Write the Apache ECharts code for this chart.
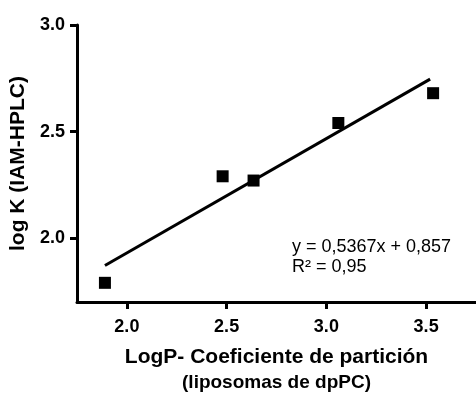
<!DOCTYPE html>
<html><head><meta charset="utf-8">
<script src="https://cdn.jsdelivr.net/npm/echarts@6/dist/echarts.min.js"></script>
<style>html,body{margin:0;padding:0;background:#fff}#c{width:476px;height:394px}</style>
</head><body><div id="c"></div>
<script>
const xValues = [1.89, 2.48, 2.635, 3.06, 3.535];
const yValues = [1.79, 2.29, 2.27, 2.54, 2.68];
const slope = 0.5367, intercept = 0.857;
const fitX = [1.89, 3.52];
const xTicks = [2.0, 2.5, 3.0, 3.5];
const yTicks = [2.0, 2.5, 3.0];
const eqText = ['y = 0,5367x + 0,857', 'R² = 0,95'];

const font = '"Liberation Sans", Arial, sans-serif';
const chart = echarts.init(document.getElementById('c'));
chart.setOption({
  animation: false,
  grid: {left: 77, top: 25, right: 0, bottom: 92, containLabel: false, outerBoundsMode: 'none'},
  xAxis: {
    type: 'value', min: 1.75, max: 3.75,
    name: '{a|LogP- Coeficiente de partición}\n{b|(liposomas de dpPC)}',
    nameLocation: 'middle', nameGap: 42,
    nameTextStyle: {rich: {
      a: {fontFamily: font, fontWeight: 'bold', fontSize: 21, color: '#000', lineHeight: 26},
      b: {fontFamily: font, fontWeight: 'bold', fontSize: 19, color: '#000', lineHeight: 26}
    }},
    splitLine: {show: false},
    axisLine: {show: true, lineStyle: {color: '#000', width: 3}},
    axisTick: {show: true, length: 7, lineStyle: {color: '#000', width: 3}, customValues: xTicks},
    axisLabel: {customValues: xTicks, margin: 16, fontFamily: font, fontWeight: 'bold', fontSize: 18, color: '#000',
      formatter: v => v.toFixed(1)}
  },
  yAxis: {
    type: 'value', min: 1.7, max: 3.0,
    name: 'log K (IAM-HPLC)', nameLocation: 'middle', nameGap: 45, nameRotate: 90,
    nameTextStyle: {fontFamily: font, fontWeight: 'bold', fontSize: 21, color: '#000'},
    splitLine: {show: false},
    axisLine: {show: true, lineStyle: {color: '#000', width: 3}},
    axisTick: {show: true, length: 7, lineStyle: {color: '#000', width: 3}, customValues: yTicks},
    axisLabel: {customValues: yTicks, margin: 12, fontFamily: font, fontWeight: 'bold', fontSize: 18, color: '#000',
      formatter: v => v.toFixed(1)}
  },
  series: [
    {type: 'line', data: fitX.map(x => [x, slope * x + intercept]), showSymbol: false, symbol: 'none',
      lineStyle: {color: '#000', width: 3}},
    {type: 'scatter', data: xValues.map((x, i) => [x, yValues[i]]), symbol: 'rect', symbolSize: 12,
      itemStyle: {color: '#000', opacity: 1}}
  ],
  graphic: [
    {type: 'text', left: 292, top: 238, style: {text: eqText[0], fontFamily: font, fontSize: 18, fill: '#000'}},
    {type: 'text', left: 292, top: 258, style: {text: eqText[1], fontFamily: font, fontSize: 18, fill: '#000'}}
  ]
});
</script></body></html>
